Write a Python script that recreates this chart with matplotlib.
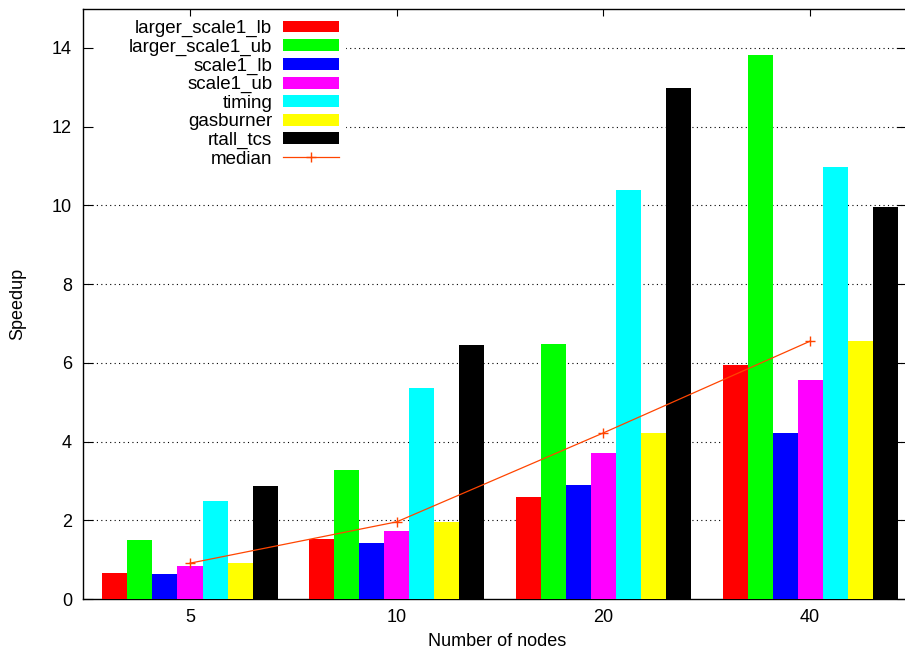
import numpy as np
import matplotlib
matplotlib.use('Agg')
import matplotlib.pyplot as plt
from matplotlib.patches import Patch, Rectangle
from matplotlib.lines import Line2D

plt.rcParams['font.family'] = ['Liberation Sans', 'DejaVu Sans']
plt.rcParams['font.size'] = 13

nodes = ['5', '10', '20', '40']
series = ['larger_scale1_lb', 'larger_scale1_ub', 'scale1_lb', 'scale1_ub',
          'timing', 'gasburner', 'rtall_tcs']
larger_scale1_lb = [0.67, 1.52, 2.59, 5.94]
larger_scale1_ub = [1.50, 3.29, 6.48, 13.83]
scale1_lb = [0.63, 1.42, 2.89, 4.22]
scale1_ub = [0.84, 1.74, 3.70, 5.57]
timing = [2.48, 5.36, 10.39, 10.98]
gasburner = [0.91, 1.96, 4.22, 6.55]
rtall_tcs = [2.87, 6.45, 12.98, 9.97]
median = [0.91, 1.96, 4.22, 6.55]

colors = ['#ff0000', '#00ff00', '#0000ff', '#ff00ff', '#00ffff', '#ffff00', '#000000']
values = [larger_scale1_lb, larger_scale1_ub, scale1_lb, scale1_ub,
          timing, gasburner, rtall_tcs]

fig = plt.figure(figsize=(9.05, 6.57), dpi=100)
W, H = 905, 657
left, right, top, bottom = 83, 907, 8.6, 599
ax = fig.add_axes([left / W, 1 - bottom / H, (right - left) / W, (bottom - top) / H])

x = np.arange(len(nodes))
bw = 0.121
# clustered bars, seven per group
for i, (vals, col) in enumerate(zip(values, colors)):
    ax.bar(x + (i - 3) * bw, vals, width=bw, color=col, linewidth=0, zorder=3)

ax.plot(x, median, color='#ff4500', linewidth=0.9, marker='+',
        markersize=7, markeredgewidth=1.0, zorder=4)

ax.set_xlim(-0.5177, 3.469)
ax.set_ylim(0, 15)
ax.set_xticks(x)
ax.set_xticklabels(nodes)
ax.set_yticks(np.arange(0, 15, 2))

# dotted grid drawn by hand so it can sit under the key and the bars
for yv in ax.get_yticks()[1:]:
    ax.axhline(yv, color='black', linewidth=0.8, linestyle=(0, (1, 3)), zorder=0.3)

ax.tick_params(axis='y', direction='in', length=7.2, width=0.8, pad=8, right=True)
ax.tick_params(axis='x', direction='in', length=5, width=0.8, pad=7,
               top=True, bottom=False)
ax.spines['right'].set_visible(False)
for s in ['left', 'top', 'bottom']:
    ax.spines[s].set_linewidth(1.0)

ax.set_xlabel('Number of nodes')
ax.set_ylabel('Speedup')
ax.xaxis.set_label_coords(0.503, -0.0576)
ax.yaxis.set_label_coords(-0.069, 0.5)

# opaque key area: hides the grid behind the legend
key_right = (346 - left) / (right - left)
key_bottom = (bottom - 170) / (bottom - top)
ax.add_patch(Rectangle((0, key_bottom), key_right, 1 - key_bottom,
                       transform=ax.transAxes, facecolor='white',
                       edgecolor='none', zorder=0.4))

handles = [Patch(facecolor=c, edgecolor='none') for c in colors]
handles.append(Line2D([], [], color='#ff4500', linewidth=0.9, marker='+',
                      markersize=7, markeredgewidth=1.0))
labels = series + ['median']
leg = ax.legend(handles, labels, loc='upper right', fontsize=13.5,
                bbox_to_anchor=((344.4 - left) / (right - left), 0.990),
                borderaxespad=0, borderpad=0.3, frameon=False,
                markerfirst=False, handlelength=2.95, handleheight=0.6,
                handletextpad=0.6, labelspacing=0.08)

fig.savefig('out.png', dpi=100)
